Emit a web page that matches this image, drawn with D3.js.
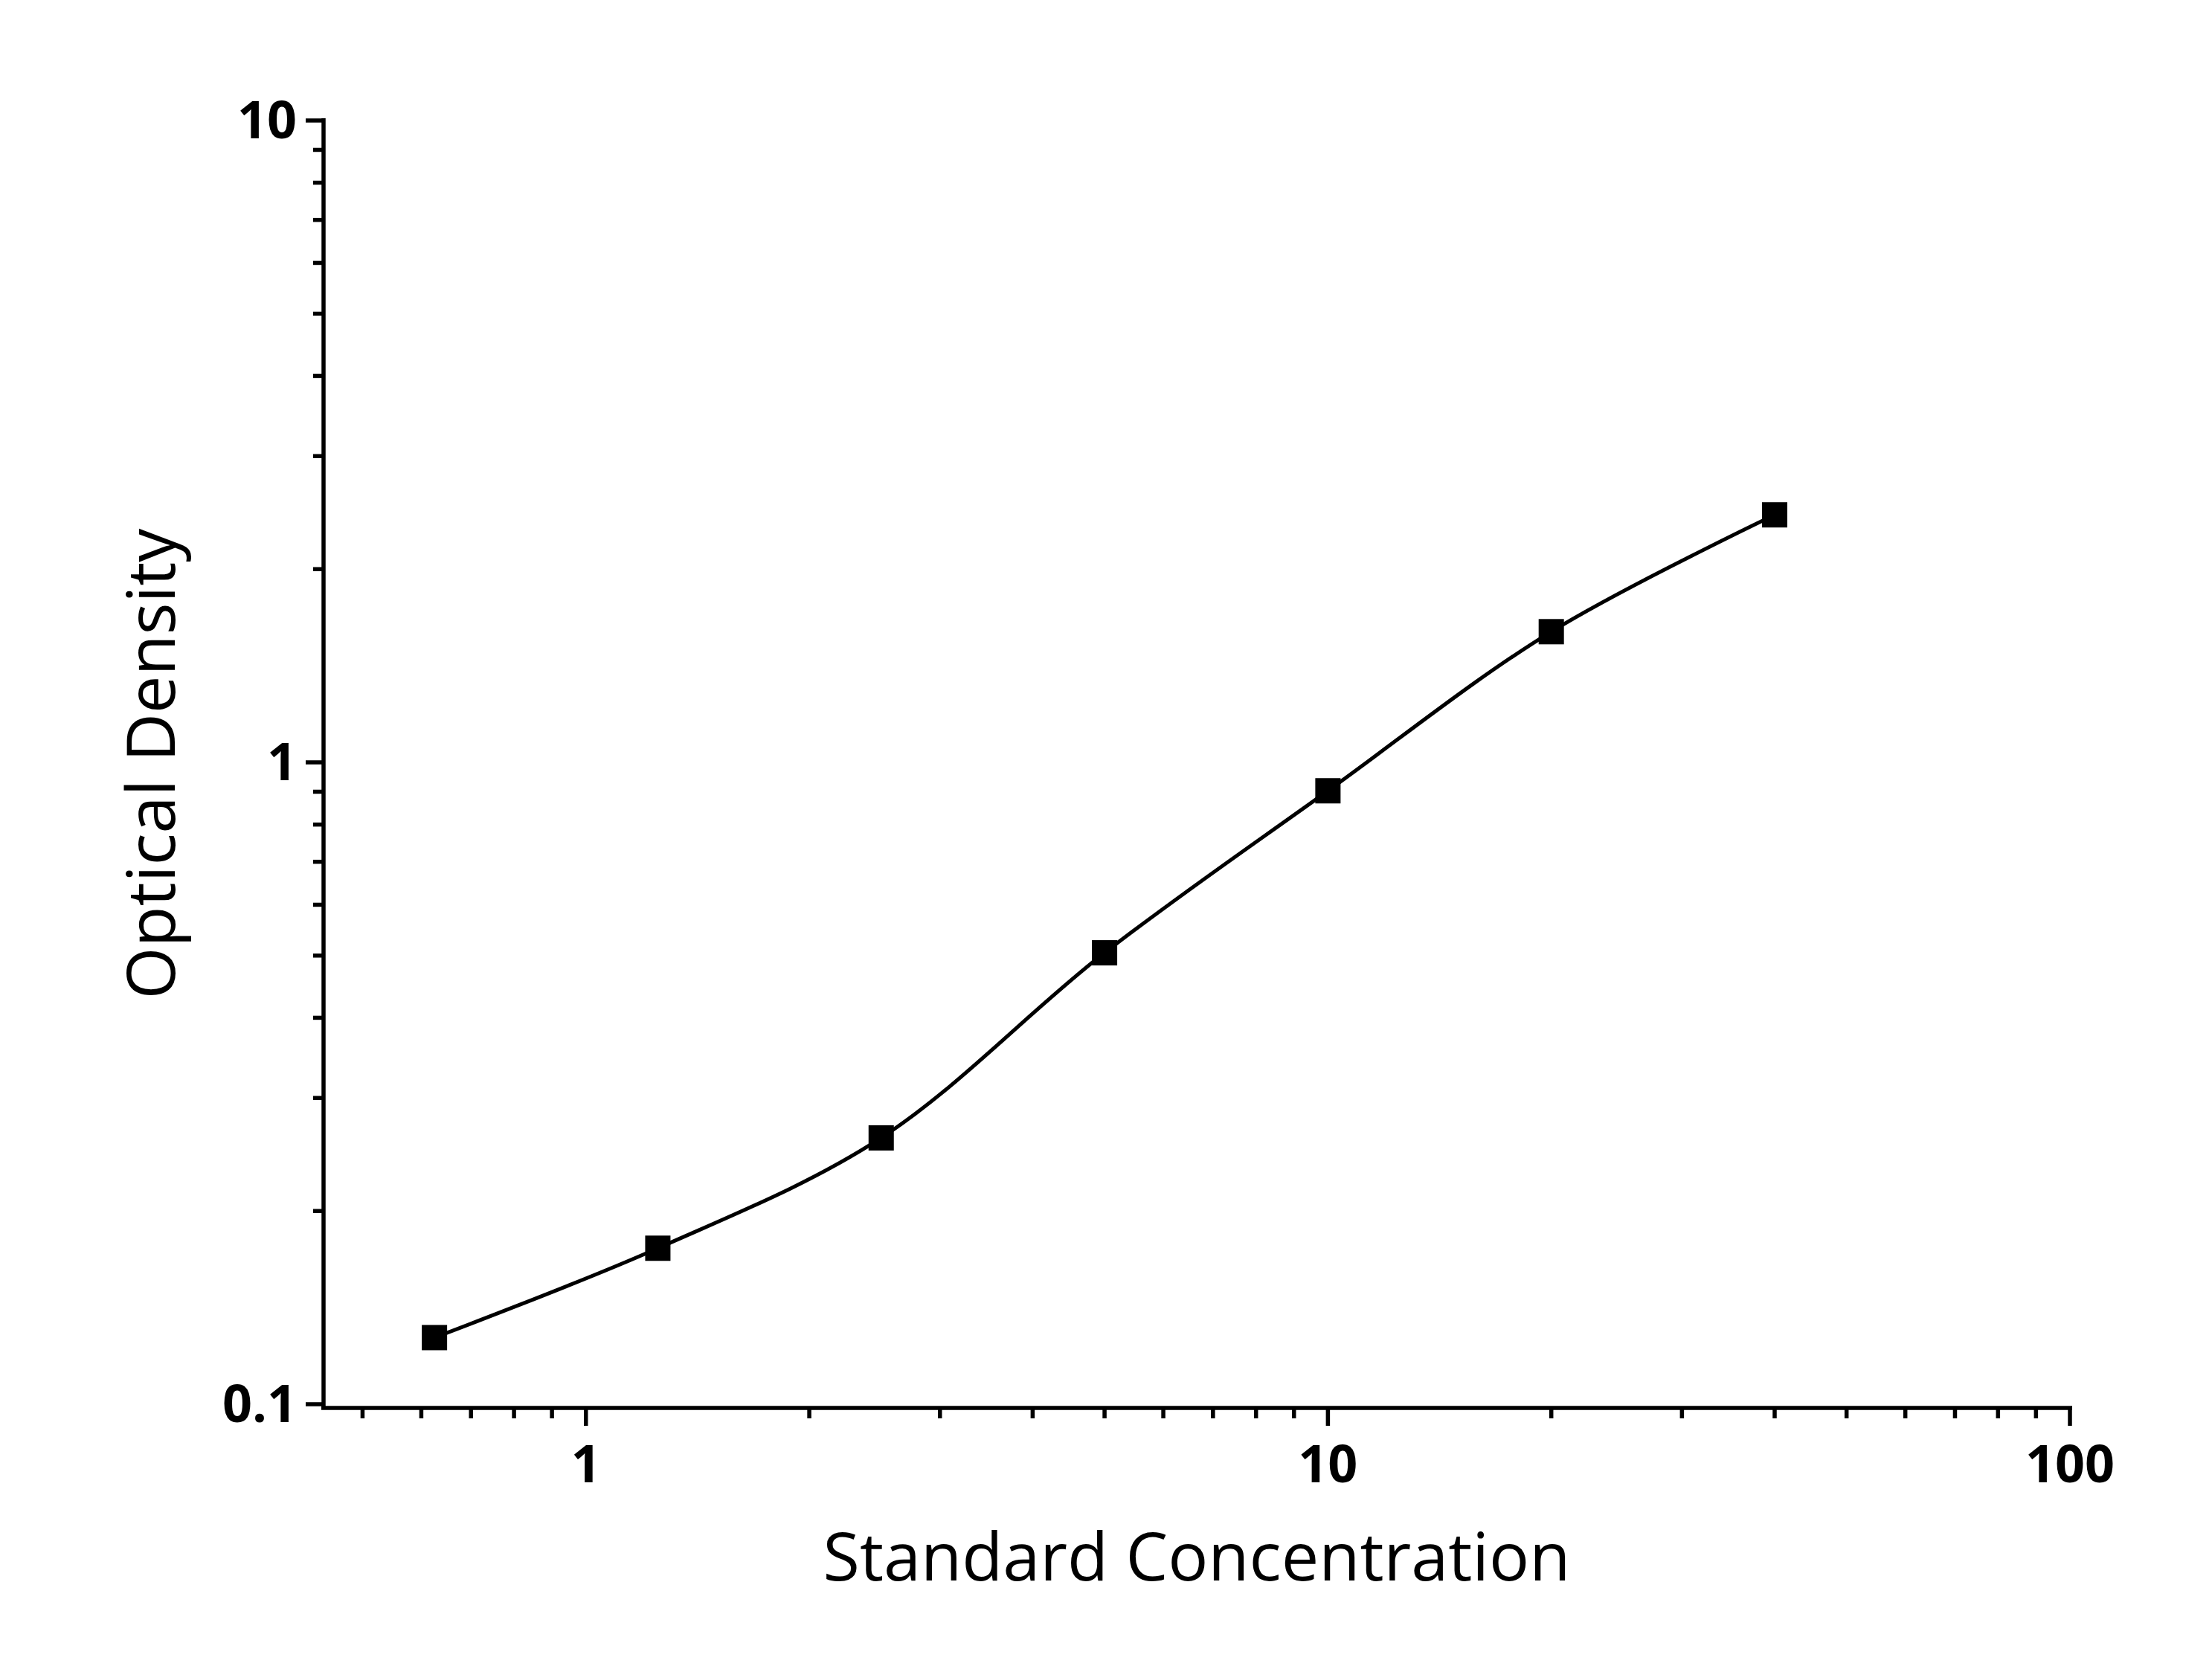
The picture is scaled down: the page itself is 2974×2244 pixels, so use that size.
<!DOCTYPE html>
<html><head><meta charset="utf-8">
<script src="https://cdn.jsdelivr.net/npm/d3@7"></script>
<style>body{margin:0;background:#fff}</style></head>
<body><svg id="c" width="2974" height="2244"></svg>
<script>
const concentrations=[0.625,1.25,2.5,5,10,20,40];
const odValues=[0.127,0.175,0.26,0.505,0.903,1.598,2.43];
const xTicks=[1,10,100];
const yTicks=[0.1,1,10];
const svg=d3.select("#c");
const L=435,R=2783,T=162,B=1888;
const x=d3.scaleLog().domain([0.443,100]).range([L,R]);
const y=d3.scaleLog().domain([0.1,10]).range([B,T]);
const font="'Open Sans', sans-serif";
function minors(lo,hi){const a=[];for(let d=lo;d<hi;d*=10)for(let k=2;k<10;k++)a.push(d*k);return a;}
const g=svg.append("g").attr("stroke","#000").attr("stroke-width",5.5);
// axes lines
g.append("line").attr("x1",L).attr("x2",L).attr("y1",T-3).attr("y2",B+5);
g.append("line").attr("x1",L-3).attr("x2",R+3).attr("y1",B+5).attr("y2",B+5);
// x ticks
minors(0.1,100).filter(v=>v>=0.443).forEach(v=>g.append("line").attr("x1",x(v)).attr("x2",x(v)).attr("y1",B+5).attr("y2",B+19));
xTicks.forEach(v=>g.append("line").attr("x1",x(v)).attr("x2",x(v)).attr("y1",B+5).attr("y2",B+29));
minors(0.1,10).forEach(v=>g.append("line").attr("y1",y(v)).attr("y2",y(v)).attr("x1",L).attr("x2",L-14));
yTicks.forEach(v=>g.append("line").attr("y1",y(v)).attr("y2",y(v)).attr("x1",L).attr("x2",L-24));
xTicks.forEach(v=>svg.append("text").attr("x",x(v)).attr("y",B+105).attr("text-anchor","middle").attr("font-family",font).attr("font-weight","bold").attr("font-size",70).text(v));
yTicks.forEach(v=>svg.append("text").attr("x",L-36).attr("y",y(v)+24).attr("text-anchor","end").attr("font-family",font).attr("font-weight","bold").attr("font-size",70).text(v));
svg.append("text").attr("x",(L+R)/2).attr("y",2125).attr("text-anchor","middle").attr("font-family",font).attr("font-size",90).text("Standard Concentration");
svg.append("text").attr("transform",`translate(235,${(T+B)/2+2}) rotate(-90)`).attr("text-anchor","middle").attr("font-family",font).attr("font-size",90).text("Optical Density");
const pts=concentrations.map((c,i)=>[x(c),y(odValues[i])]);
svg.append("path").attr("d",d3.line().curve(d3.curveCatmullRom.alpha(0.5))(pts)).attr("fill","none").attr("stroke","#000").attr("stroke-width",5);
svg.selectAll("rect.m").data(pts).enter().append("rect").attr("x",d=>d[0]-17).attr("y",d=>d[1]-17).attr("width",34).attr("height",34).attr("fill","#000");
</script></body></html>
